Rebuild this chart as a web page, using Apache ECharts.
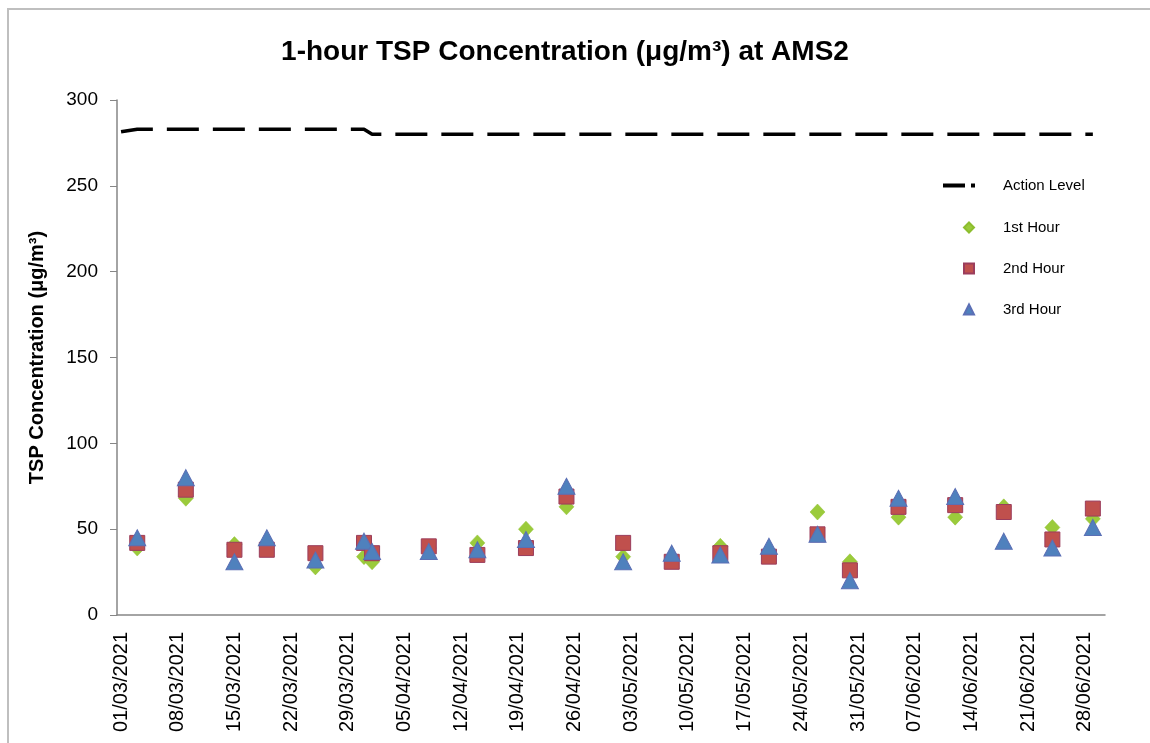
<!DOCTYPE html>
<html>
<head>
<meta charset="utf-8">
<script src="https://cdn.jsdelivr.net/npm/echarts@6/dist/echarts.min.js"></script>
<style>html,body{margin:0;padding:0;background:#fff}#c{width:1150px;height:743px}</style>
</head>
<body>
<div id="c"></div>
<script>
// Sampling dates (dd/mm/yyyy)
var sampleDates = ['03/03/2021','09/03/2021','15/03/2021','19/03/2021','25/03/2021','31/03/2021','01/04/2021','08/04/2021','14/04/2021','20/04/2021','25/04/2021','02/05/2021','08/05/2021','14/05/2021','20/05/2021','26/05/2021','30/05/2021','05/06/2021','12/06/2021','18/06/2021','24/06/2021','29/06/2021'];
var hour1 = [39, 68, 41, 40, 28, 34, 31, 39, 42, 50, 63, 34, 33, 40, 35, 60, 31, 57, 57, 63, 51, 56];
var hour2 = [42, 73, 38, 38, 36, 42, 36, 40, 35, 39, 69, 42, 31, 36, 34, 47, 26, 63, 64, 60, 44, 62];
var hour3 = [45, 80, 31, 45, 32, 43, 37, 37, 38, 44, 75, 31, 36, 35, 40, 47, 20, 68, 69, 43, 39, 51];
var actionDates = ['01/03/2021','03/03/2021','09/03/2021','15/03/2021','19/03/2021','25/03/2021','31/03/2021','01/04/2021','08/04/2021','14/04/2021','20/04/2021','25/04/2021','02/05/2021','08/05/2021','14/05/2021','20/05/2021','26/05/2021','30/05/2021','05/06/2021','12/06/2021','18/06/2021','24/06/2021','29/06/2021'];
var actionLevel = [281.5, 283, 283, 283, 283, 283, 283, 280, 280, 280, 280, 280, 280, 280, 280, 280, 280, 280, 280, 280, 280, 280, 280];
var yTicks = [0, 50, 100, 150, 200, 250, 300];
var axisStart = '2021-03-01', axisDays = 122, labelEvery = 7;

// daily categories for the date axis
var categories = [];
(function(){
  var d0 = new Date(axisStart + 'T00:00:00Z');
  for (var i = 0; i < axisDays; i++) {
    var d = new Date(d0.getTime() + i * 86400000);
    var dd = ('0' + d.getUTCDate()).slice(-2), mm = ('0' + (d.getUTCMonth() + 1)).slice(-2);
    categories.push(dd + '/' + mm + '/' + d.getUTCFullYear());
  }
})();
function pairs(dates, vals){ return dates.map(function(d, i){ return [d, vals[i]]; }); }

var font = "'Liberation Sans', Arial, sans-serif";
var legendText = { fontFamily: font, fontSize: 15, color: '#000' };
var chart = echarts.init(document.getElementById('c'));
chart.setOption({
  animation: false,
  title: {
    text: '1-hour TSP Concentration (μg/m³) at AMS2',
    left: 560, top: 33, textAlign: 'center',
    textStyle: { fontFamily: font, fontWeight: 'bold', fontSize: 28, color: '#000' }
  },
  graphic: [{
    type: 'rect', shape: { x: 8, y: 9, width: 1300, height: 900 },
    style: { fill: 'none', stroke: '#BFBFBF', lineWidth: 2 }, silent: true
  }],
  legend: [
    {
      orient: 'vertical', left: 938, top: 173,
      itemWidth: 32, itemHeight: 10,
      textStyle: Object.assign({ padding: [0, 0, 0, 23] }, legendText),
      data: [{ name: 'Action Level', icon: 'path://M0,0H22V4H0Z M28,0H32V4H28Z',
               itemStyle: { color: '#000', borderWidth: 0 } }]
    },
    {
      orient: 'vertical', left: 958, top: 215,
      itemWidth: 10, itemHeight: 10, itemGap: 26,
      textStyle: Object.assign({ padding: [0, 0, 0, 24] }, legendText),
      data: ['1st Hour', '2nd Hour', '3rd Hour']
    }
  ],
  grid: { left: 117, right: 45, top: 100, bottom: 128, containLabel: false },
  xAxis: {
    type: 'category', data: categories, boundaryGap: true,
    axisLine: { lineStyle: { color: '#868686', width: 1.5 } },
    axisTick: { show: false },
    axisLabel: {
      interval: labelEvery - 1, rotate: 90, margin: 17,
      fontFamily: font, fontSize: 20, color: '#000'
    },
    splitLine: { show: false }
  },
  yAxis: {
    type: 'value', min: 0, max: 300, interval: 50,
    name: 'TSP Concentration (μg/m³)', nameLocation: 'middle', nameGap: 70,
    nameTextStyle: { fontFamily: font, fontWeight: 'bold', fontSize: 20, color: '#000' },
    axisLine: { show: true, lineStyle: { color: '#868686', width: 1.5 } },
    axisTick: { show: true, length: 7, lineStyle: { color: '#868686' } },
    axisLabel: { margin: 19, fontFamily: font, fontSize: 19, color: '#000',
      customValues: yTicks },
    splitLine: { show: false }
  },
  series: [
    {
      name: 'Action Level', type: 'line', data: pairs(actionDates, actionLevel),
      symbol: 'none', lineStyle: { color: '#000', width: 3.5, type: [32, 14] },
      itemStyle: { color: '#000' }, z: 1
    },
    {
      name: '1st Hour', type: 'scatter', data: pairs(sampleDates, hour1),
      symbol: 'diamond', symbolSize: [15, 16],
      itemStyle: { color: '#9BCB3B', borderColor: '#8DBE2E', borderWidth: 0.5, opacity: 1 }, z: 2
    },
    {
      name: '2nd Hour', type: 'scatter', data: pairs(sampleDates, hour2),
      symbol: 'rect', symbolSize: 15,
      itemStyle: { color: '#C0504D', borderColor: '#9B3D5C', borderWidth: 1, opacity: 1 }, z: 3
    },
    {
      name: '3rd Hour', type: 'scatter', data: pairs(sampleDates, hour3),
      symbol: 'triangle', symbolSize: [17, 16],
      itemStyle: { color: '#4F81BD', borderColor: '#5B6FB5', borderWidth: 1, opacity: 1 }, z: 4
    }
  ]
});
</script>
</body>
</html>
